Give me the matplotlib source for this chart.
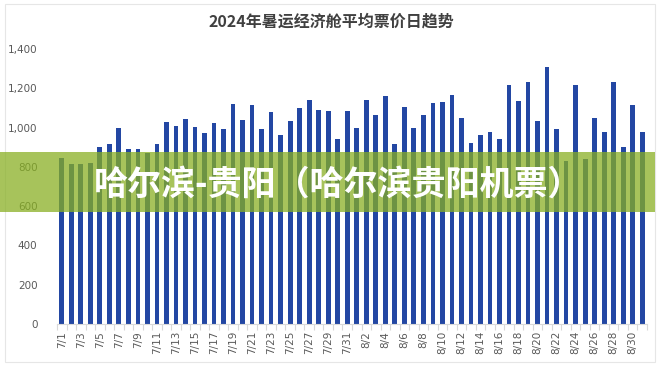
import numpy as np
import matplotlib

matplotlib.use("Agg")
import matplotlib.pyplot as plt
from matplotlib.patches import Rectangle
import matplotlib.ticker as mticker

plt.rcParams["font.family"] = ["Noto Sans CJK SC", "DejaVu Sans"]

days = [f"7/{d}" for d in range(1, 32)] + [f"8/{d}" for d in range(1, 32)]
prices = [
    843, 813, 816, 819, 902, 918, 999, 891, 892, 872,
    918, 1028, 1008, 1043, 1001, 970, 1023, 994, 1120, 1038,
    1114, 992, 1079, 960, 1036, 1101, 1140, 1091, 1082, 941,
    1085, 997, 1140, 1064, 1160, 918, 1106, 999, 1062, 1125,
    1130, 1165, 1047, 921, 960, 975, 940, 1218, 1135, 1233,
    1031, 1309, 994, 829, 1216, 838, 1048, 975, 1233, 901,
    1113, 975,
]
yticks = [0, 200, 400, 600, 800, 1000, 1200, 1400]
title = "2024年暑运经济舱平均票价日趋势"
banner = "哈尔滨-贵阳（哈尔滨贵阳机票）"

W, H = 660, 366
fig = plt.figure(figsize=(W / 100, H / 100), dpi=100)
ax = fig.add_axes([57 / W, 42 / H, (647 - 57) / W, (324 - 49) / H])

x = np.arange(len(days))
ax.bar(x, prices, width=0.5, color="#2347a3", zorder=2)
ax.set_xlim(-0.5, len(days) - 0.5)
ax.set_ylim(0, 1400)

ax.set_xticks(x[::2])
ax.set_xticklabels(days[::2], rotation=90, fontsize=7.5, color="#595959", family="DejaVu Sans")
ax.set_xticks(np.arange(-0.5, len(days), 1), minor=True)
ax.tick_params(axis="x", which="major", length=0, pad=5)
ax.tick_params(axis="x", which="minor", length=4, color="#d9d9d9", width=0.8)

ax.set_yticks(yticks)
ax.yaxis.set_major_formatter(mticker.FuncFormatter(lambda v, p: f"{int(v):,}"))
ax.tick_params(axis="y", length=0, labelsize=7.5, labelcolor="#595959", pad=14)
for lab in ax.get_yticklabels():
    lab.set_family("DejaVu Sans")

for s in ["top", "right", "left"]:
    ax.spines[s].set_visible(False)
ax.spines["bottom"].set_color("#d9d9d9")

fig.text(331 / W, 1 - 22 / H, title, ha="center", va="center",
         fontsize=11.5, fontweight="bold", color="#404040")

# light frame around the chart
fig.patches.append(Rectangle((5 / W, 4 / H), 650 / W, 358 / H, transform=fig.transFigure,
                             fill=False, edgecolor="#e6e6e6", linewidth=0.8))

# green banner overlay, semi transparent so the bars show through
fig.patches.append(Rectangle((0, 1 - 212 / H), 655 / W, 60 / H, transform=fig.transFigure,
                             facecolor="#88af22", alpha=0.74, edgecolor="none", zorder=5))
fig.text(338 / W, 1 - 184 / H, banner, ha="center", va="center", fontsize=24.5,
         fontweight="heavy", color="white", zorder=6)

fig.savefig("out.png", dpi=100)
